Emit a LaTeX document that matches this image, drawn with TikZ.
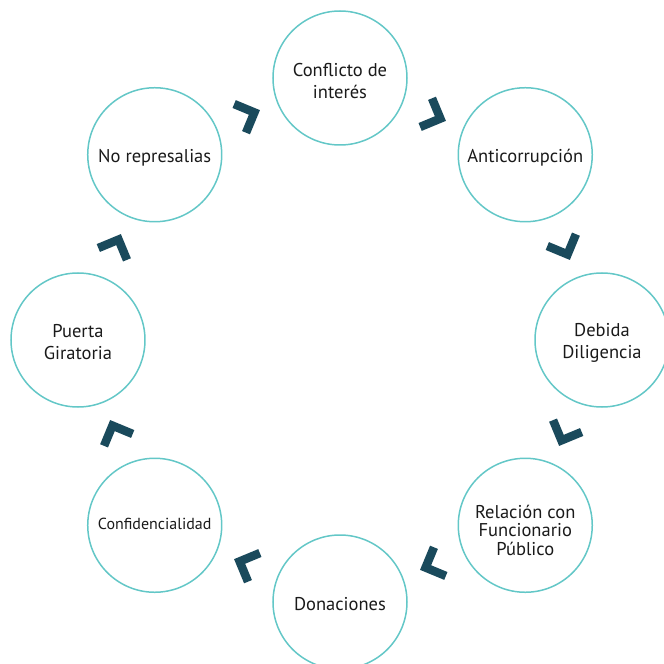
\documentclass[tikz,border=0pt]{standalone}
\usepackage{fontspec}
\setmainfont{PT Sans}
\definecolor{ringteal}{HTML}{63C7C7}
\definecolor{chevblue}{HTML}{1A4A5C}
\definecolor{txt}{HTML}{1A1A1A}
\begin{document}
\begin{tikzpicture}[x=1pt,y=1pt,
  topic/.style={circle, draw=ringteal, line width=1.5pt, minimum size=134pt, inner sep=0pt},
  topictext/.style={inner sep=0pt, align=center, text=txt, font=\fontsize{18.5}{22}\selectfont},
  chev/.style={draw=chevblue, line width=8.5pt, line join=miter, line cap=butt}]
\useasboundingbox (-340,-324) rectangle (324,340);
\clip (-340,-324) rectangle (324,340);
% topics placed clockwise on a ring
\node[topic] (c1) at (90:262)   {};
\node[topic] (c2) at (45:262)   {};
\node[topic] (c3) at (0:262)    {};
\node[topic] (c4) at (-45:262)  {};
\node[topic] (c5) at (-90:262)  {};
\node[topic] (c6) at (-135:262) {};
\node[topic] (c7) at (180:262)  {};
\node[topic] (c8) at (135:262)  {};
% their labels, set a little below each centre
\node[topictext] (t1) at ([yshift=-3pt]c1.center) {Conflicto de\\interés};
\node[topictext] (t2) at ([yshift=-3pt]c2.center) {Anticorrupción};
\node[topictext] (t3) at ([yshift=-3pt]c3.center) {Debida\\Diligencia};
\node[topictext, font=\fontsize{18.5}{18.5}\selectfont] (t4) at ([yshift=-5pt]c4.center) {Relación con\\Funcionario\\Público};
\node[topictext] (t5) at ([yshift=-2pt]c5.center) {Donaciones};
\node[topictext, font=\fontsize{16}{18}\selectfont] (t6) at ([yshift=1pt]c6.center) {Confidencialidad};
\node[topictext] (t7) at ([yshift=-2pt]c7.center) {Puerta\\Giratoria};
\node[topictext] (t8) at ([yshift=-3pt]c8.center) {No represalias};
% chevrons between neighbours, pointing clockwise
\foreach \a in {112.5,67.5,22.5,-22.5,-67.5,-112.5,-157.5,157.5}{
  \begin{scope}[shift={(\a:243)}, rotate=\a-90]
    \draw[chev] (-7.5,15.5) -- (8,0) -- (-7.5,-15.5);
  \end{scope}
}
\end{tikzpicture}
\end{document}
